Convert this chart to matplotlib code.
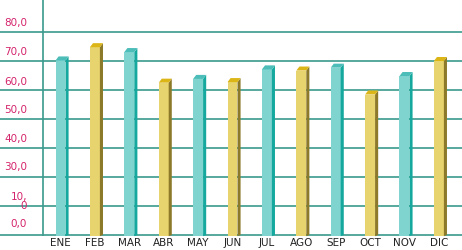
import matplotlib
matplotlib.use("Agg")
import matplotlib.pyplot as plt
from matplotlib.patches import Polygon

months = ["ENE", "FEB", "MAR", "ABR", "MAY", "JUN", "JUL", "AGO", "SEP", "OCT", "NOV", "DIC"]
values = [60.3, 64.9, 63.2, 52.6, 53.9, 52.8, 57.2, 56.8, 57.8, 48.5, 54.9, 60.1]
ytick_labels = ["0,0", "10,\n0", "30,0", "40,0", "50,0", "60,0", "70,0", "80,0"]
ytick_pos = [3.6, 11.3, 23.4, 33.1, 43.1, 52.8, 63.2, 73.3]
grid_levels = [0, 10, 20, 30, 40, 50, 60, 70]

teal = ("#80d4d0", "#14a89e", "#4cbdb8")
yellow = ("#e8d46e", "#8c7a2a", "#dcb516")

fig = plt.figure(figsize=(4.62, 2.5), dpi=100)
ax = fig.add_axes([0, 0, 1, 1])
ax.set_xlim(-1.759, 11.672)
ax.set_ylim(-5.37, 81.25)
ax.axis("off")

for lev in grid_levels:
    ax.axhline(lev, color="#3a9a8c", lw=1.2, zorder=1)
ax.plot([-0.523, -0.523], [0, 82], color="#3a9a8c", lw=1.2, zorder=1)

w = 0.29   # front face width
dx = 0.09  # depth to the right
dy = 1.4   # depth upward
for i, v in enumerate(values):
    front, side, cap = teal if i % 2 == 0 else yellow
    x0 = i - w / 2
    x1 = i + w / 2
    ax.bar(i, v + 0.6, bottom=-0.6, width=w, color=front, zorder=3)
    ax.add_patch(Polygon([(x1, -0.6), (x1 + dx, -0.6 + dy * 0.3), (x1 + dx, v + dy), (x1, v)],
                         closed=True, color=side, lw=0, zorder=3))
    ax.add_patch(Polygon([(x0, v), (x1, v), (x1 + dx, v + dy), (x0 + dx, v + dy)],
                         closed=True, color=cap, lw=0, zorder=3))
    ax.text(i, -2.95, months[i], ha="center", va="center", fontsize=7.5,
            color="#222222", family=["Liberation Sans Narrow", "DejaVu Sans"])

for pos, lab in zip(ytick_pos, ytick_labels):
    ax.text(-0.97, pos, lab, ha="right", va="center", fontsize=7.5, color="#d4236c",
            linespacing=0.9, family=["Liberation Sans Narrow", "DejaVu Sans"])

fig.savefig("out.png", dpi=100)
